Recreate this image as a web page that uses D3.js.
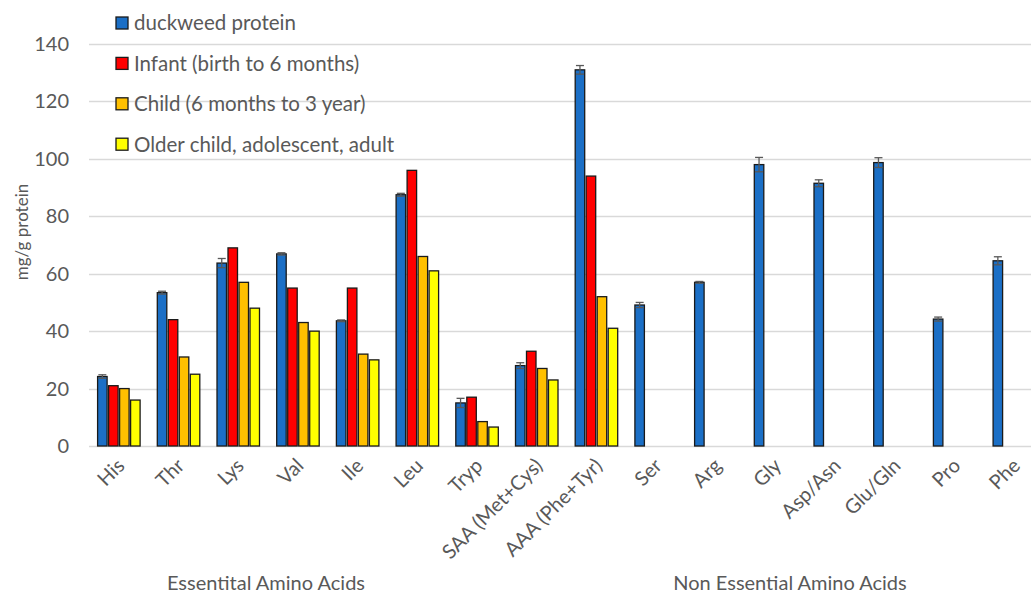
<!DOCTYPE html>
<html>
<head>
<meta charset="utf-8">
<script src="https://cdn.jsdelivr.net/npm/d3@7"></script>
<style>
  html, body { margin: 0; padding: 0; background: #fff; overflow: hidden; }
  svg { display: block; font-family: Lato, "Open Sans", sans-serif; }
</style>
</head>
<body>
<svg id="chart" width="1031" height="593"></svg>
<script>
// Amino acid categories (essential first, then non-essential)
const categories = ["His", "Thr", "Lys", "Val", "Ile", "Leu", "Tryp", "SAA (Met+Cys)", "AAA (Phe+Tyr)",
                    "Ser", "Arg", "Gly", "Asp/Asn", "Glu/Gln", "Pro", "Phe"];

// mg/g protein
const duckweed    = [24.2, 53.4, 63.7, 66.9, 43.6, 87.5, 15.0, 28.0, 131.0, 49.1, 57.0, 98.0, 91.5, 98.7, 44.2, 64.5];
const duckweedErr = [0.6, 0.5, 1.6, 0.4, 0.3, 0.5, 1.6, 1.0, 1.5, 0.9, 0.3, 2.5, 1.2, 1.7, 0.7, 1.4];
const infant = [21, 44, 69, 55, 55, 96, 17, 33, 94];
const child  = [20, 31, 57, 43, 32, 66, 8.5, 27, 52];
const adult  = [16, 25, 48, 40, 30, 61, 6.6, 23, 41];

const seriesNames = ["duckweed protein", "Infant (birth to 6 months)", "Child (6 months to 3 year)", "Older child, adolescent, adult"];
const seriesColors = ["#1b6fc6", "#ff0000", "#ffc000", "#ffff00"];
const seriesValues = [duckweed, infant, child, adult];

const yTicks = [0, 20, 40, 60, 80, 100, 120, 140];
const groupLabels = ["Essentital Amino Acids", "Non Essential Amino Acids"];

const svg = d3.select("#chart");
const textColor = "#595959";

const plotLeft = 89, bandStep = 59.7;
const x = d3.scaleBand().domain(categories).range([plotLeft, plotLeft + bandStep * categories.length]).padding(0);
const groupW = 44;
const x1 = d3.scaleBand().domain(seriesNames).range([0, groupW]).padding(0);
const y = d3.scaleLinear().domain([0, 140]).range([446, 44]);

// gridlines
svg.append("g").selectAll("line").data(yTicks).join("line")
  .attr("x1", plotLeft).attr("x2", x.range()[1])
  .attr("y1", d => Math.round(y(d)) + 0.5).attr("y2", d => Math.round(y(d)) + 0.5)
  .attr("stroke", "#d9d9d9").attr("stroke-width", 1.3);

// y tick labels
svg.append("g").selectAll("text").data(yTicks).join("text")
  .attr("x", 69).attr("y", d => y(d)).attr("dy", "0.35em")
  .attr("text-anchor", "end").attr("fill", textColor)
  .style("font-size", "20px").text(d => d);

// y axis title
svg.append("text")
  .attr("transform", "translate(28,232) rotate(-90)")
  .attr("text-anchor", "middle").attr("fill", textColor)
  .style("font-size", "17px").text("mg/g protein");

// bars
const barW = 9.5;
const offset = (bandStep - groupW) / 2;
seriesNames.forEach((name, si) => {
  const vals = seriesValues[si];
  const data = vals.map((v, i) => ({ cat: categories[i], v })).filter(d => d.v != null);
  svg.append("g").selectAll("rect").data(data).join("rect")
    .attr("x", d => x(d.cat) + offset + x1(name) + (x1.bandwidth() - barW) / 2)
    .attr("y", d => y(d.v))
    .attr("width", barW)
    .attr("height", d => y(0) - y(d.v))
    .attr("fill", seriesColors[si])
    .attr("stroke", "#1a1a1a").attr("stroke-width", 1.3);
});

// error bars on duckweed
const errG = svg.append("g").attr("stroke", "#595959").attr("stroke-width", 1.3);
duckweed.forEach((v, i) => {
  const cx = x(categories[i]) + offset + x1(seriesNames[0]) + x1.bandwidth() / 2;
  const e = duckweedErr[i];
  errG.append("line").attr("x1", cx).attr("x2", cx).attr("y1", y(v - e)).attr("y2", y(v + e));
  errG.append("line").attr("x1", cx - 4).attr("x2", cx + 4).attr("y1", y(v + e)).attr("y2", y(v + e));
  errG.append("line").attr("x1", cx - 4).attr("x2", cx + 4).attr("y1", y(v - e)).attr("y2", y(v - e));
});

// category labels, rotated
svg.append("g").selectAll("text").data(categories).join("text")
  .attr("transform", d => `translate(${x(d) + x.bandwidth() / 2 + 7},${467}) rotate(-45)`)
  .attr("text-anchor", "end").attr("fill", textColor)
  .style("font-size", "20px").text(d => d);

// group labels
svg.append("text").attr("x", 266).attr("y", 590).attr("text-anchor", "middle")
  .attr("fill", textColor).style("font-size", "20px").text(groupLabels[0]);
svg.append("text").attr("x", 790).attr("y", 590).attr("text-anchor", "middle")
  .attr("fill", textColor).style("font-size", "20px").text(groupLabels[1]);

// legend
const lg = svg.append("g");
seriesNames.forEach((name, i) => {
  const cy = 23 + i * 40.4;
  lg.append("rect").attr("x", 116).attr("y", cy - 6).attr("width", 12).attr("height", 12)
    .attr("fill", seriesColors[i]).attr("stroke", "#1a1a1a").attr("stroke-width", 1.3);
  lg.append("text").attr("x", 134).attr("y", cy).attr("dy", "0.36em")
    .attr("fill", textColor).style("font-size", "20.5px").text(name);
});
</script>
</body>
</html>
